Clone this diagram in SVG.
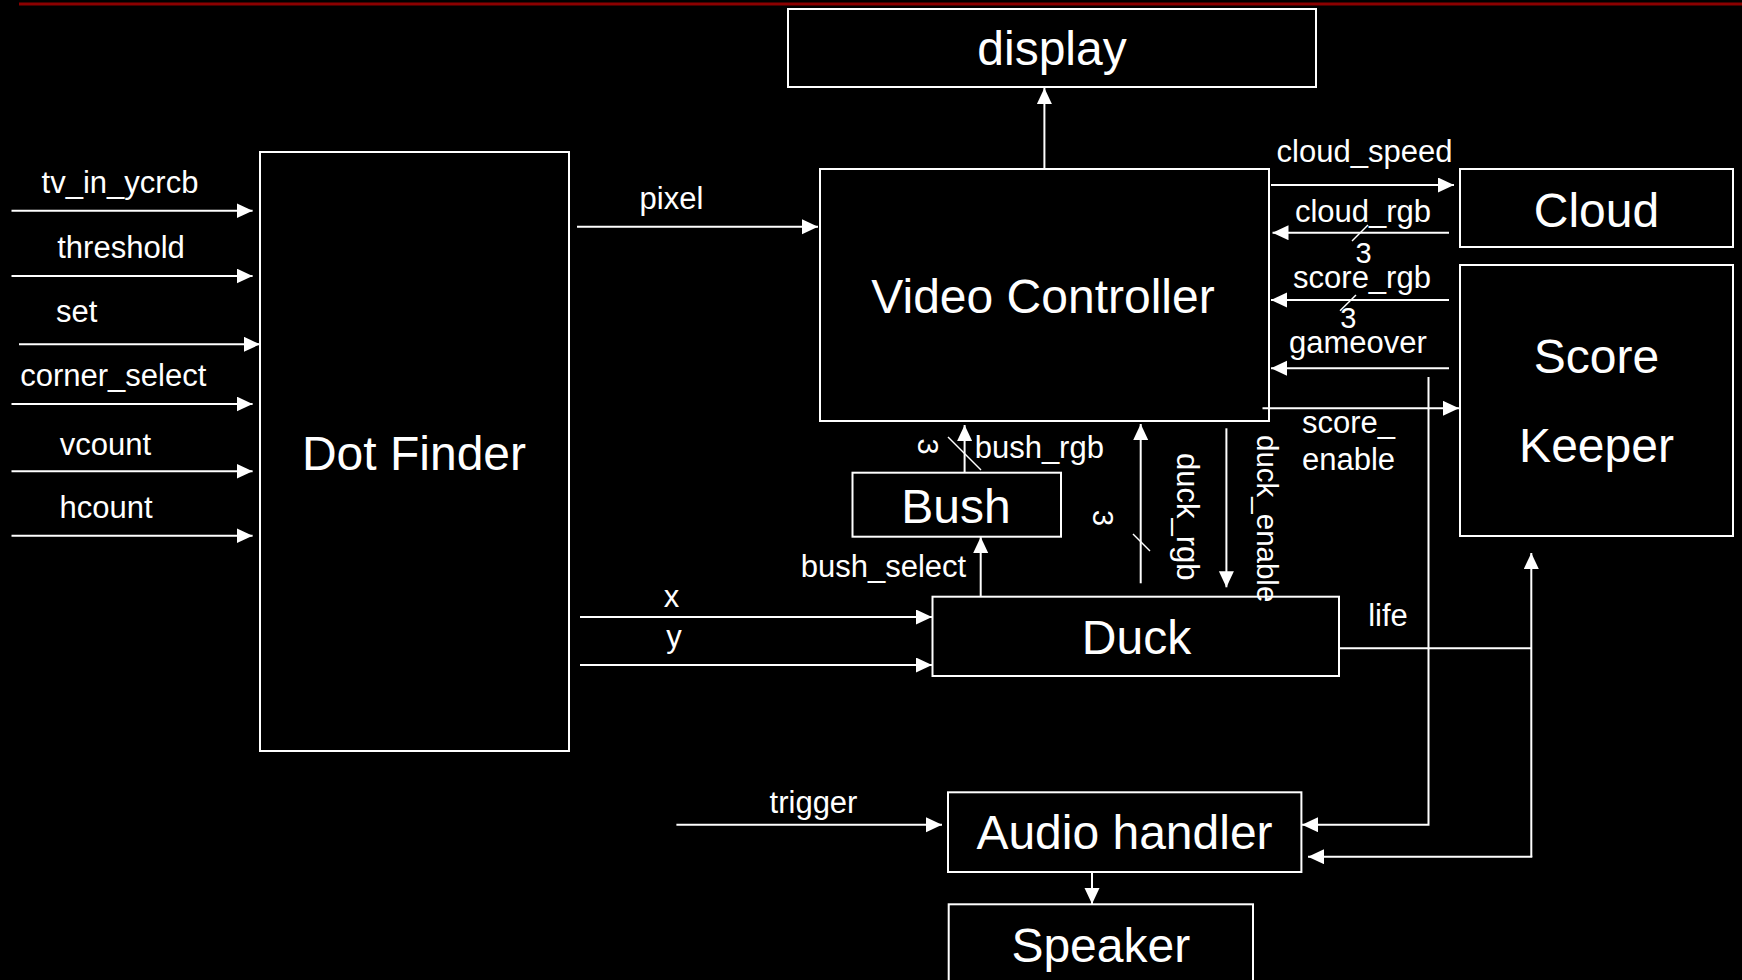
<svg xmlns="http://www.w3.org/2000/svg" width="1742" height="980" viewBox="0 0 1742 980">
  <style>
    .box { fill: #000; stroke: #fff; stroke-width: 2; }
    .big { fill: #fff; font-family: "Liberation Sans", Arial, sans-serif; font-size: 48px; text-anchor: middle; }
    .lbl { fill: #fff; font-family: "Liberation Sans", Arial, sans-serif; font-size: 31px; text-anchor: middle; }
    .num { fill: #fff; font-family: "Liberation Sans", Arial, sans-serif; font-size: 29px; text-anchor: middle; }
    .wire { fill: none; stroke: #fff; stroke-width: 2; }
    .arrow { fill: none; stroke: #fff; stroke-width: 2; marker-end: url(#head); }
    .tick { stroke: #fff; stroke-width: 1.5; }
  </style>
  <defs>
    <marker id="head" markerUnits="userSpaceOnUse" markerWidth="16" markerHeight="16" refX="16" refY="7.5" orient="auto">
      <path d="M0,0 L16,7.5 L0,15 Z" fill="#fff"/>
    </marker>
    <clipPath id="aboveDuck">
      <rect x="1240" y="420" width="60" height="181"/>
    </clipPath>
  </defs>

  <rect x="0" y="0" width="1742" height="980" fill="#000"/>
  <line x1="19" y1="4" x2="1742" y2="4" stroke="#8b0000" stroke-width="3"/>

  <!-- blocks -->
  <g id="dot-finder">
    <rect class="box" x="260" y="152" width="309" height="599"/>
    <text class="big" x="414" y="470">Dot Finder</text>
  </g>
  <g id="display">
    <rect class="box" x="788" y="9" width="528" height="78"/>
    <text class="big" x="1052" y="65">display</text>
  </g>
  <g id="video-controller">
    <rect class="box" x="820" y="169" width="449" height="252"/>
    <text class="big" x="1043" y="313">Video Controller</text>
  </g>
  <g id="cloud">
    <rect class="box" x="1460" y="169" width="273" height="78"/>
    <text class="big" x="1596.5" y="227">Cloud</text>
  </g>
  <g id="score-keeper">
    <rect class="box" x="1460" y="265" width="273" height="271"/>
    <text class="big" x="1596.5" y="373">Score</text>
    <text class="big" x="1596.5" y="462">Keeper</text>
  </g>
  <g id="bush">
    <rect class="box" x="852.5" y="472.7" width="208.5" height="64"/>
    <text class="big" x="956" y="523">Bush</text>
  </g>
  <g id="duck">
    <rect class="box" x="932.5" y="596.7" width="406.5" height="79.3"/>
    <text class="big" x="1136.5" y="654">Duck</text>
  </g>
  <g id="audio-handler">
    <rect class="box" x="948" y="792.3" width="353.4" height="79.7"/>
    <text class="big" x="1124.5" y="849">Audio handler</text>
  </g>
  <g id="speaker">
    <rect class="box" x="948.7" y="904.3" width="304.3" height="90"/>
    <text class="big" x="1100.8" y="962">Speaker</text>
  </g>

  <!-- signals -->
  <g id="connectors">
    <!-- Dot Finder inputs -->
    <line class="arrow" x1="11.5" y1="210.7" x2="252.6" y2="210.7"/>
    <text class="lbl" x="120" y="193">tv_in_ycrcb</text>
    <line class="arrow" x1="11.5" y1="276" x2="252.6" y2="276"/>
    <text class="lbl" x="121" y="258">threshold</text>
    <line class="arrow" x1="19" y1="344.3" x2="260" y2="344.3"/>
    <text class="lbl" x="76.6" y="321.7">set</text>
    <line class="arrow" x1="11.5" y1="404" x2="252.6" y2="404"/>
    <text class="lbl" x="113.3" y="386">corner_select</text>
    <line class="arrow" x1="11.5" y1="471.3" x2="252.6" y2="471.3"/>
    <text class="lbl" x="105.5" y="455">vcount</text>
    <line class="arrow" x1="11.5" y1="535.7" x2="252.6" y2="535.7"/>
    <text class="lbl" x="106" y="518">hcount</text>

    <!-- pixel -->
    <line class="arrow" x1="577" y1="226.7" x2="818" y2="226.7"/>
    <text class="lbl" x="671.5" y="209">pixel</text>

    <!-- Video Controller to display -->
    <line class="arrow" x1="1044.4" y1="168" x2="1044.4" y2="88"/>

    <!-- Cloud / Score Keeper links -->
    <line class="arrow" x1="1271" y1="185" x2="1454" y2="185"/>
    <text class="lbl" x="1364.5" y="161.7">cloud_speed</text>

    <line class="arrow" x1="1449" y1="232.7" x2="1272.5" y2="232.7"/>
    <text class="lbl" x="1363" y="221.7">cloud_rgb</text>
    <line class="tick" x1="1352" y1="241" x2="1368" y2="225"/>
    <text class="num" x="1363.5" y="263.3">3</text>

    <line class="arrow" x1="1449" y1="300" x2="1271" y2="300"/>
    <text class="lbl" x="1362" y="288.3">score_rgb</text>
    <line class="tick" x1="1340" y1="310.7" x2="1356" y2="295"/>
    <text class="num" x="1348.3" y="328.3">3</text>

    <line class="arrow" x1="1449" y1="368.3" x2="1271" y2="368.3"/>
    <text class="lbl" x="1358" y="353">gameover</text>
    <path class="arrow" d="M1428.5,377 V824.7 H1302"/>

    <line class="arrow" x1="1262.5" y1="408.3" x2="1459" y2="408.3"/>
    <text class="lbl" x="1302" y="433.3" style="text-anchor:start">score_</text>
    <text class="lbl" x="1302" y="470" style="text-anchor:start">enable</text>

    <!-- Bush -->
    <line class="arrow" x1="964.6" y1="472.7" x2="964.6" y2="425"/>
    <line class="tick" x1="948" y1="437" x2="981" y2="470"/>
    <text class="num" transform="translate(918,446.5) rotate(90)">3</text>
    <text class="lbl" x="1039.3" y="458.3">bush_rgb</text>

    <line class="arrow" x1="980.7" y1="596.7" x2="980.7" y2="537"/>
    <text class="lbl" x="883.5" y="576.7">bush_select</text>

    <!-- Duck -->
    <line class="arrow" x1="1140.7" y1="583.3" x2="1140.7" y2="424"/>
    <line class="tick" x1="1133" y1="534" x2="1150" y2="551"/>
    <text class="num" transform="translate(1093,518) rotate(90)">3</text>
    <text class="lbl" transform="translate(1177,453) rotate(90)" style="text-anchor:start">duck_rgb</text>

    <line class="arrow" x1="1226.4" y1="428.3" x2="1226.4" y2="587.3"/>
    <g clip-path="url(#aboveDuck)">
      <text class="lbl" transform="translate(1257,435) rotate(90)" style="text-anchor:start;font-size:29.5px">duck_enable</text>
    </g>

    <line class="arrow" x1="580" y1="617" x2="932" y2="617"/>
    <text class="lbl" x="671.5" y="606.7">x</text>
    <line class="arrow" x1="580" y1="665" x2="932" y2="665"/>
    <text class="lbl" x="674" y="646.7">y</text>

    <!-- life -->
    <line class="wire" x1="1340" y1="648.3" x2="1531.3" y2="648.3"/>
    <line class="arrow" x1="1531.3" y1="856.7" x2="1531.3" y2="553"/>
    <line class="arrow" x1="1532.3" y1="856.7" x2="1308" y2="856.7"/>
    <text class="lbl" x="1388" y="626">life</text>

    <!-- Audio -->
    <line class="arrow" x1="676.4" y1="824.7" x2="942" y2="824.7"/>
    <text class="lbl" x="813.5" y="813.3">trigger</text>
    <line class="arrow" x1="1092" y1="872" x2="1092" y2="904"/>
  </g>
</svg>
